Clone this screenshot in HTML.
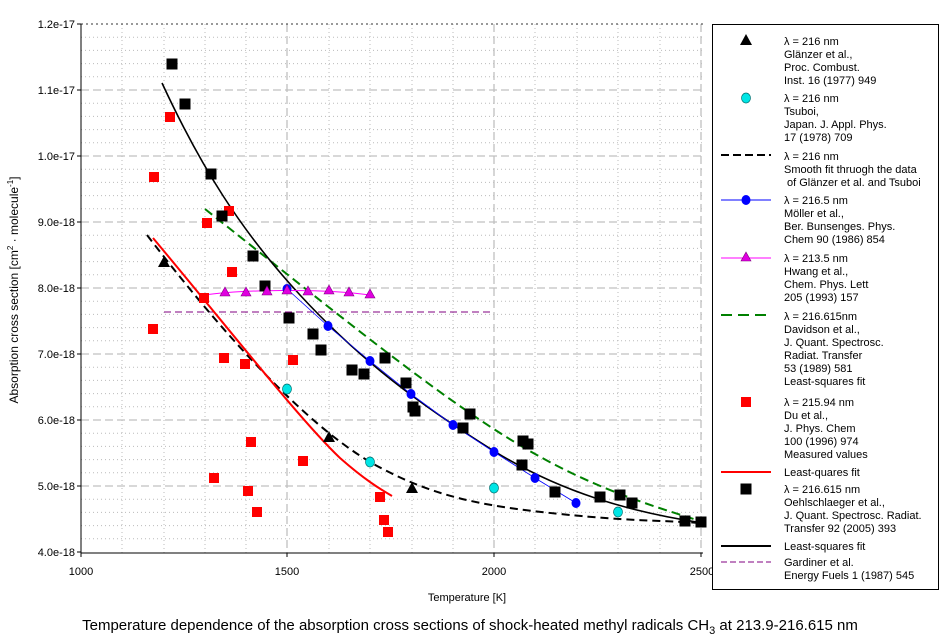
<!DOCTYPE html>
<html><head><meta charset="utf-8"><style>
html,body{margin:0;padding:0;background:#fff;}
svg{display:block;font-family:"Liberation Sans",Arial,sans-serif;}
</style></head><body>
<svg width="940" height="644" viewBox="0 0 940 644" xmlns="http://www.w3.org/2000/svg">
<defs>
<g id="bs"><rect x="-5.5" y="-5.5" width="11" height="11" fill="#000"/></g>
<g id="rs"><rect x="-5" y="-5" width="10" height="10" fill="#f00"/></g>
<g id="bt"><path d="M0,-6 L6,5 L-6,5Z" fill="#000"/></g>
<g id="mt"><path d="M0,-5 L5,4 L-5,4Z" fill="#e000e0" stroke="#800080" stroke-width="0.6"/></g>
<g id="cc"><ellipse rx="4.5" ry="5" fill="#00e5e5" stroke="#007070" stroke-width="0.7"/></g>
<g id="bc"><ellipse rx="4.5" ry="5" fill="#00f"/></g>
</defs>
<g stroke="#bbb" stroke-width="1" stroke-dasharray="1,3">
<line x1="122" y1="24" x2="122" y2="553"/><line x1="164" y1="24" x2="164" y2="553"/><line x1="205" y1="24" x2="205" y2="553"/><line x1="246" y1="24" x2="246" y2="553"/>
<line x1="329" y1="24" x2="329" y2="553"/><line x1="370" y1="24" x2="370" y2="553"/><line x1="412" y1="24" x2="412" y2="553"/><line x1="453" y1="24" x2="453" y2="553"/>
<line x1="535" y1="24" x2="535" y2="553"/><line x1="577" y1="24" x2="577" y2="553"/><line x1="618" y1="24" x2="618" y2="553"/><line x1="660" y1="24" x2="660" y2="553"/>
</g>
<g stroke="#bbb" stroke-width="1" stroke-dasharray="1,3">
<line x1="81" y1="37.2" x2="703" y2="37.2"/><line x1="81" y1="50.4" x2="703" y2="50.4"/><line x1="81" y1="63.6" x2="703" y2="63.6"/><line x1="81" y1="76.8" x2="703" y2="76.8"/>
<line x1="81" y1="103.2" x2="703" y2="103.2"/><line x1="81" y1="116.4" x2="703" y2="116.4"/><line x1="81" y1="129.6" x2="703" y2="129.6"/><line x1="81" y1="142.8" x2="703" y2="142.8"/>
<line x1="81" y1="169.2" x2="703" y2="169.2"/><line x1="81" y1="182.4" x2="703" y2="182.4"/><line x1="81" y1="195.6" x2="703" y2="195.6"/><line x1="81" y1="208.8" x2="703" y2="208.8"/>
<line x1="81" y1="235.2" x2="703" y2="235.2"/><line x1="81" y1="248.4" x2="703" y2="248.4"/><line x1="81" y1="261.6" x2="703" y2="261.6"/><line x1="81" y1="274.8" x2="703" y2="274.8"/>
<line x1="81" y1="301.2" x2="703" y2="301.2"/><line x1="81" y1="314.4" x2="703" y2="314.4"/><line x1="81" y1="327.6" x2="703" y2="327.6"/><line x1="81" y1="340.8" x2="703" y2="340.8"/>
<line x1="81" y1="367.2" x2="703" y2="367.2"/><line x1="81" y1="380.4" x2="703" y2="380.4"/><line x1="81" y1="393.6" x2="703" y2="393.6"/><line x1="81" y1="406.8" x2="703" y2="406.8"/>
<line x1="81" y1="433.2" x2="703" y2="433.2"/><line x1="81" y1="446.4" x2="703" y2="446.4"/><line x1="81" y1="459.6" x2="703" y2="459.6"/><line x1="81" y1="472.8" x2="703" y2="472.8"/>
<line x1="81" y1="499.2" x2="703" y2="499.2"/><line x1="81" y1="512.4" x2="703" y2="512.4"/><line x1="81" y1="525.6" x2="703" y2="525.6"/><line x1="81" y1="538.8" x2="703" y2="538.8"/>
</g>
<g stroke="#c0c0c0" stroke-width="1.3" stroke-dasharray="8,4">
<line x1="287" y1="24" x2="287" y2="553"/><line x1="494" y1="24" x2="494" y2="553"/><line x1="701" y1="24" x2="701" y2="553"/>
<line x1="81" y1="90" x2="703" y2="90"/><line x1="81" y1="156" x2="703" y2="156"/><line x1="81" y1="222" x2="703" y2="222"/><line x1="81" y1="288" x2="703" y2="288"/><line x1="81" y1="354" x2="703" y2="354"/><line x1="81" y1="420" x2="703" y2="420"/><line x1="81" y1="486" x2="703" y2="486"/>
</g>
<line x1="81" y1="24" x2="703" y2="24" stroke="#333" stroke-dasharray="2,3"/>
<g stroke="#000" stroke-width="1">
<line x1="81" y1="24" x2="81" y2="553"/><line x1="81" y1="553" x2="703" y2="553"/>
<line x1="77" y1="24" x2="81" y2="24"/><line x1="77" y1="90" x2="81" y2="90"/><line x1="77" y1="156" x2="81" y2="156"/><line x1="77" y1="222" x2="81" y2="222"/><line x1="77" y1="288" x2="81" y2="288"/><line x1="77" y1="354" x2="81" y2="354"/><line x1="77" y1="420" x2="81" y2="420"/><line x1="77" y1="486" x2="81" y2="486"/><line x1="77" y1="552" x2="81" y2="552"/>
<line x1="81" y1="553" x2="81" y2="557"/><line x1="287" y1="553" x2="287" y2="557"/><line x1="494" y1="553" x2="494" y2="557"/><line x1="701" y1="553" x2="701" y2="557"/>
</g>
<g font-size="11" fill="#000" text-anchor="end">
<text x="75" y="28">1.2e-17</text><text x="75" y="94">1.1e-17</text><text x="75" y="160">1.0e-17</text><text x="75" y="226">9.0e-18</text><text x="75" y="292">8.0e-18</text><text x="75" y="358">7.0e-18</text><text x="75" y="424">6.0e-18</text><text x="75" y="490">5.0e-18</text><text x="75" y="556">4.0e-18</text>
</g>
<g font-size="11" fill="#000" text-anchor="middle">
<text x="81" y="575">1000</text><text x="287" y="575">1500</text><text x="494" y="575">2000</text><text x="702" y="575">2500</text>
<text x="467" y="601">Temperature [K]</text>
</g>
<text transform="translate(18,290) rotate(-90)" font-size="12" text-anchor="middle">Absorption cross section [cm<tspan dy="-5" font-size="8">2</tspan><tspan dy="5"> · molecule</tspan><tspan dy="-5" font-size="8">-1</tspan><tspan dy="5">]</tspan></text>
<text x="470" y="630" font-size="15" text-anchor="middle">Temperature dependence of the absorption cross sections of shock-heated methyl radicals CH<tspan dy="4" font-size="11">3</tspan><tspan dy="-4"> at 213.9-216.615 nm</tspan></text>

<polyline fill="none" stroke="#800080" stroke-width="1" stroke-dasharray="7,4" points="164,312 494,312"/>
<path fill="none" stroke="#008000" stroke-width="2" stroke-dasharray="9,5" d="M205,209 C320,300 420,382 500,433 S640,502 700,521"/>
<path fill="none" stroke="#000" stroke-width="2" stroke-dasharray="8,5" d="M147,235 C220,330 300,420 370,462 C430,496 480,506 560,514 S660,520 700,523"/>
<path fill="none" stroke="#f00" stroke-width="2" d="M153,238 C230,330 300,420 340,458 C365,480 380,489 392,496"/>
<path fill="none" stroke="#000" stroke-width="1.6" d="M162,83 C200,165 240,230 300,295 C360,360 420,405 494,451 C560,492 630,512 703,523"/>
<polyline fill="none" stroke="#00f" stroke-width="0.8" points="287,289 328,326 370,361 411,394 453,425 494,452 535,478 576,503"/>
<path fill="none" stroke="#ff00ff" stroke-width="1" d="M205,295 C240,290 320,288 370,295"/>

<g>
<use href="#rs" x="154" y="177"/><use href="#rs" x="170" y="117"/><use href="#rs" x="207" y="223"/><use href="#rs" x="229" y="211"/><use href="#rs" x="204" y="298"/><use href="#rs" x="232" y="272"/><use href="#rs" x="153" y="329"/><use href="#rs" x="224" y="358"/><use href="#rs" x="293" y="360"/><use href="#rs" x="245" y="364"/><use href="#rs" x="251" y="442"/><use href="#rs" x="214" y="478"/><use href="#rs" x="248" y="491"/><use href="#rs" x="257" y="512"/><use href="#rs" x="303" y="461"/><use href="#rs" x="380" y="497"/><use href="#rs" x="384" y="520"/><use href="#rs" x="388" y="532"/>
</g>
<g>
<use href="#bs" x="172" y="64"/><use href="#bs" x="185" y="104"/><use href="#bs" x="211" y="174"/><use href="#bs" x="222" y="216"/><use href="#bs" x="253" y="256"/><use href="#bs" x="265" y="286"/><use href="#bs" x="289" y="318"/><use href="#bs" x="313" y="334"/><use href="#bs" x="321" y="350"/><use href="#bs" x="352" y="370"/><use href="#bs" x="364" y="374"/><use href="#bs" x="385" y="358"/><use href="#bs" x="406" y="383"/><use href="#bs" x="413" y="407"/><use href="#bs" x="415" y="411"/><use href="#bs" x="463" y="428"/><use href="#bs" x="470" y="414"/><use href="#bs" x="523" y="441"/><use href="#bs" x="528" y="444"/><use href="#bs" x="522" y="465"/><use href="#bs" x="555" y="492"/><use href="#bs" x="600" y="497"/><use href="#bs" x="620" y="495"/><use href="#bs" x="632" y="503"/><use href="#bs" x="685" y="521"/><use href="#bs" x="701" y="522"/>
</g>
<g>
<use href="#bc" x="287" y="289"/><use href="#bc" x="328" y="326"/><use href="#bc" x="370" y="361"/><use href="#bc" x="411" y="394"/><use href="#bc" x="453" y="425"/><use href="#bc" x="494" y="452"/><use href="#bc" x="535" y="478"/><use href="#bc" x="576" y="503"/>
</g>
<g>
<use href="#mt" x="225" y="292"/><use href="#mt" x="246" y="292"/><use href="#mt" x="267" y="291"/><use href="#mt" x="287" y="290"/><use href="#mt" x="308" y="291"/><use href="#mt" x="329" y="290"/><use href="#mt" x="349" y="292"/><use href="#mt" x="370" y="294"/>
</g>
<g><use href="#cc" x="287" y="389"/><use href="#cc" x="370" y="462"/><use href="#cc" x="494" y="488"/><use href="#cc" x="618" y="512"/></g>
<g><use href="#bt" x="164" y="262"/><use href="#bt" x="329" y="437"/><use href="#bt" x="412" y="488"/></g>

<rect x="712.5" y="24.5" width="226" height="565" fill="#fff" stroke="#000" stroke-width="1"/>
<g font-size="11" fill="#000">
<use href="#bt" x="746" y="40"/>
<text x="784" y="45">λ = 216 nm</text><text x="784" y="58">Glänzer et al.,</text><text x="784" y="71">Proc. Combust.</text><text x="784" y="84">Inst. 16 (1977) 949</text>
<use href="#cc" x="746" y="98"/>
<text x="784" y="102">λ = 216 nm</text><text x="784" y="115">Tsuboi,</text><text x="784" y="128">Japan. J. Appl. Phys.</text><text x="784" y="141">17 (1978) 709</text>
<line x1="721" y1="155" x2="771" y2="155" stroke="#000" stroke-width="2" stroke-dasharray="8,4"/>
<text x="784" y="160">λ = 216 nm</text><text x="784" y="173">Smooth fit thruogh the data</text><text x="787" y="186">of Glänzer et al. and Tsuboi</text>
<line x1="721" y1="200" x2="771" y2="200" stroke="#00f" stroke-width="1"/><use href="#bc" x="746" y="200"/>
<text x="784" y="204">λ = 216.5 nm</text><text x="784" y="217">Möller et al.,</text><text x="784" y="230">Ber. Bunsenges. Phys.</text><text x="784" y="243">Chem 90 (1986) 854</text>
<line x1="721" y1="258" x2="771" y2="258" stroke="#ff00ff" stroke-width="1"/><use href="#mt" x="746" y="257"/>
<text x="784" y="262">λ = 213.5 nm</text><text x="784" y="275">Hwang et al.,</text><text x="784" y="288">Chem. Phys. Lett</text><text x="784" y="301">205 (1993)  157</text>
<line x1="721" y1="315" x2="771" y2="315" stroke="#008000" stroke-width="2" stroke-dasharray="11,6"/>
<text x="784" y="320">λ = 216.615nm</text><text x="784" y="333">Davidson et al.,</text><text x="784" y="346">J. Quant. Spectrosc.</text><text x="784" y="359">Radiat. Transfer</text><text x="784" y="372">53 (1989) 581</text><text x="784" y="385">Least-squares fit</text>
<use href="#rs" x="746" y="402"/>
<text x="784" y="406">λ = 215.94 nm</text><text x="784" y="419">Du et al.,</text><text x="784" y="432">J. Phys. Chem</text><text x="784" y="445">100 (1996) 974</text><text x="784" y="458">Measured values</text>
<line x1="721" y1="472" x2="771" y2="472" stroke="#f00" stroke-width="2"/>
<text x="784" y="476">Least-quares fit</text>
<use href="#bs" x="746" y="489"/>
<text x="784" y="493">λ = 216.615 nm</text><text x="784" y="506">Oehlschlaeger et al.,</text><text x="784" y="519">J. Quant. Spectrosc. Radiat.</text><text x="784" y="532">Transfer 92 (2005) 393</text>
<line x1="721" y1="546" x2="771" y2="546" stroke="#000" stroke-width="2"/>
<text x="784" y="550">Least-squares fit</text>
<line x1="721" y1="562" x2="771" y2="562" stroke="#800080" stroke-width="1" stroke-dasharray="6,3"/>
<text x="784" y="566">Gardiner et al.</text><text x="784" y="579">Energy Fuels 1 (1987) 545</text>
</g>
</svg>
</body></html>
